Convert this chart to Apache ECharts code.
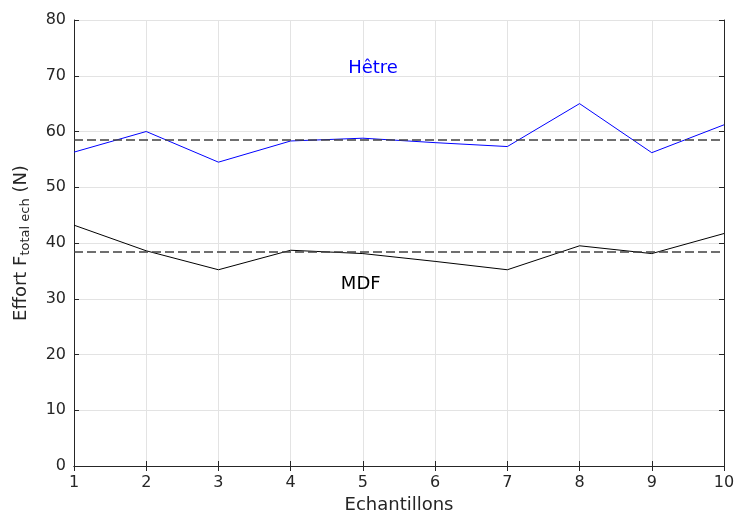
<!DOCTYPE html>
<html><head><meta charset="utf-8">
<script src="https://cdn.jsdelivr.net/npm/echarts@6/dist/echarts.min.js"></script>
<style>html,body{margin:0;padding:0;background:#fff;overflow:hidden}#c{width:737px;height:513px}</style>
</head><body><div id="c"></div>
<script>
const samples = [1,2,3,4,5,6,7,8,9,10];
const hetre = [56.3,60.0,54.5,58.3,58.8,58.0,57.3,65.0,56.2,61.2];
const mdf = [43.2,38.6,35.2,38.7,38.1,36.7,35.2,39.5,38.1,41.7];
const yTicks = [0,10,20,30,40,50,60,70,80];
const labelHetre = {text:'Hêtre', x:5.14, y:71.4};
const labelMdf = {text:'MDF', x:4.97, y:32.6};

const FONT = '"DejaVu Sans", sans-serif';
const TXT = '#262626';
const chart = echarts.init(document.getElementById('c'));
const pair = (xs, ys) => xs.map((x,i)=>[x, ys[i]]);
const meanLine = {
  silent:true, symbol:'none', label:{show:false},
  lineStyle:{color:'#404040', type:[9,4], width:1.5},
  data:[{type:'average', name:'mean'}]
};
const textPoint = (lab, color) => ({
  silent:true, symbol:'circle', symbolSize:0,
  label:{show:true, position:'inside', formatter:lab.text, color:color, fontSize:18, fontFamily:FONT},
  data:[{coord:[lab.x, lab.y]}]
});
const hiddenAxis = {show:true, axisLine:{lineStyle:{color:TXT}}, axisTick:{inside:true, length:5, lineStyle:{color:TXT}}, axisLabel:{show:false}, splitLine:{show:false}};

chart.setOption({
  animation:false,
  grid:{left:74, right:13, top:20, bottom:47, containLabel:false, outerBoundsMode:'none'},
  xAxis:[{
    type:'value', min:1, max:10, interval:1,
    name:'Echantillons', nameLocation:'middle', nameGap:30,
    nameTextStyle:{fontSize:18, color:TXT, fontFamily:FONT},
    axisLine:{lineStyle:{color:TXT}},
    axisTick:{inside:true, length:5, lineStyle:{color:TXT}},
    axisLabel:{fontSize:16, color:TXT, fontFamily:FONT, margin:9},
    splitLine:{show:true, lineStyle:{color:'#e3e3e3'}}
  },{
    type:'value', min:1, max:10, interval:1, position:'top', ...hiddenAxis
  }],
  yAxis:[{
    type:'value', min:yTicks[0], max:yTicks[yTicks.length-1], interval:yTicks[1]-yTicks[0],
    name:'{a|Effort F}{s|total ech}{a| (N)}', nameLocation:'middle', nameGap:42,
    nameTextStyle:{rich:{a:{fontSize:18, color:TXT, fontFamily:FONT}, s:{fontSize:13, color:TXT, fontFamily:FONT, verticalAlign:'bottom', padding:[9,0,0,0]}}},
    axisLine:{show:true, lineStyle:{color:TXT}},
    axisTick:{show:true, inside:true, length:5, lineStyle:{color:TXT}},
    axisLabel:{fontSize:16, color:TXT, fontFamily:FONT, margin:8},
    splitLine:{show:true, lineStyle:{color:'#e3e3e3'}}
  },{
    type:'value', min:0, max:80, interval:10, position:'right', ...hiddenAxis
  }],
  series:[
    {type:'line', data:pair(samples, hetre), symbol:'none', lineStyle:{color:'#0000ff', width:1}, itemStyle:{color:'#0000ff'}, markLine:meanLine, markPoint:textPoint(labelHetre,'#0000ff')},
    {type:'line', data:pair(samples, mdf), symbol:'none', lineStyle:{color:'#000000', width:1}, itemStyle:{color:'#000'}, markLine:meanLine, markPoint:textPoint(labelMdf,'#000000')}
  ]
});
</script></body></html>
